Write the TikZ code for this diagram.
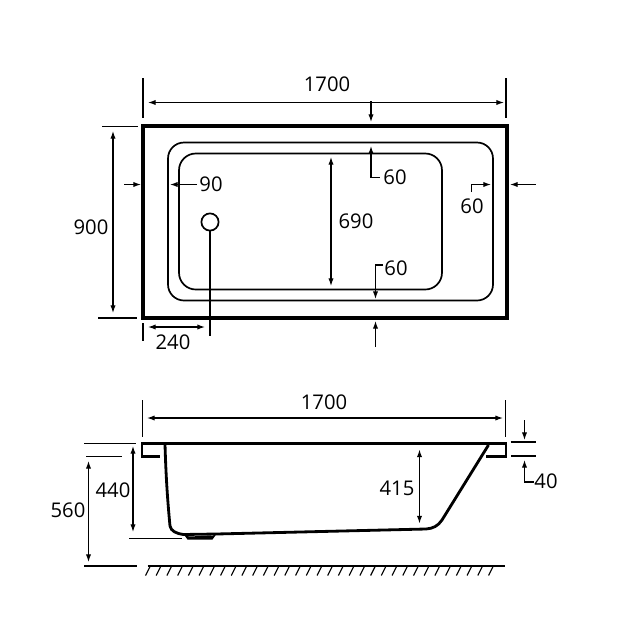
\documentclass[tikz,border=0pt]{standalone}
\usepackage{fontspec}
\setmainfont{Open Sans}
\usetikzlibrary{arrows.meta}
\tikzset{>={Latex[width=3.7pt,length=5.4pt]}}
\tikzset{
  dimline/.style={line width=0.8pt},
  bathedge/.style={line width=2.3pt},
  bathrim/.style={line width=1.2pt},
  dimtext/.style={inner sep=0pt, font=\fontsize{14.4}{16}\selectfont},
}

\begin{document}
\begin{tikzpicture}[x=0.025cm, y=-0.025cm]
    \useasboundingbox (0,0) rectangle (640,640);

    % plan view
    \draw[bathedge] (143,126) rectangle (507,318);
    \draw[bathrim, rounded corners=0.4cm] (168,142.5) rectangle (493,300.5);
    \draw[bathrim, rounded corners=0.42cm] (179,153.5) rectangle (442,289.5);
    \node[draw, bathrim, circle, minimum size=0.43cm, inner sep=0pt] (drain) at (210,222) {};

    \coordinate (plan-l-top) at (143,78);
    \coordinate (plan-l-bot) at (143,118);
    \coordinate (plan-r-top) at (506,78);
    \coordinate (plan-r-bot) at (506,118);
    \draw[dimline] (plan-l-top) -- (plan-l-bot);
    \draw[dimline] (plan-r-top) -- (plan-r-bot);
    \node[dimtext] (len-plan) at (327,84) {1700};
    \draw[dimline, <->] (148,102.5) -- (504,102.5);
    \draw[dimline, ->] (371,101) -- (371,122);

    \draw[dimline] (102,126.5) -- (138,126.5);
    \draw[dimline] (98,318) -- (137,318);
    \node[dimtext] (width-plan) at (91,227) {900};
    \draw[dimline, <->] (113,131) -- (113,313);

    \draw[dimline, ->] (124,184.5) -- (141,184.5);
    \node[dimtext] (rim-left) at (211,184.5) {90};
    \draw[dimline, ->] (rim-left.west) ++(-2,0) -- (170,184.5);

    \node[dimtext] (rim-top) at (395,177) {60};
    \draw[dimline, ->] (379.5,177.5) -- (371,177.5) -- (371,146);
    \node[dimtext] (depth-plan) at (356,221) {690};
    \draw[dimline, <->] (331,157) -- (331,286);
    \node[dimtext] (rim-bot) at (396,268) {60};
    \draw[dimline, ->] (383,265) -- (375.5,265) -- (375.5,299);
    \draw[dimline, ->] (375.5,347) -- (375.5,321);

    \node[dimtext] (rim-right) at (472,206) {60};
    \draw[dimline, ->] (471.5,192) -- (471.5,184.5) -- (491,184.5);
    \draw[dimline, ->] (535.5,184.5) -- (510,184.5);

    \coordinate (drain-end) at (210,336);
    \draw[dimline] (drain) -- (drain-end);
    \draw[dimline] (143,323) -- (143,341);
    \draw[dimline, <->] (148,327) -- (205,327);
    \node[dimtext] (drain-pos) at (173,342) {240};

    % side view
    \draw[dimline] (142.5,400) -- (142.5,437);
    \draw[dimline] (505.5,400) -- (505.5,437);
    \node[dimtext] (len-side) at (324,402) {1700};
    \draw[dimline, <->] (147,418) -- (503,418);

    \draw[line width=2.1pt] (159.5,456.5) -- (142,456.5) -- (142,443.5) -- (506,443.5) -- (506,456.5) -- (485.5,456.5);
    \draw[line width=2pt] (165,444) .. controls (166,480) and (168,505) .. (170,526)
        .. controls (171,531) and (176,533.5) .. (183.5,534.5)
        -- (216.5,534) -- (426,529)
        .. controls (433,528.5) and (438,526) .. (442,520)
        -- (488.5,445);
    \fill (183.5,534) -- (187.5,539.5) -- (212.5,539.5) -- (216.5,534) -- (213,535.5) -- (189,536.5) -- cycle;

    \draw[dimline] (84,443.7) -- (136,443.7);
    \draw[dimline] (86,456.7) -- (122,456.7);
    \draw[dimline] (129,538.7) -- (182,538.7);
    \draw[dimline] (84,566) -- (137,566);
    \node[dimtext] (height-rim) at (113,490) {440};
    \draw[dimline, <->] (133,446) -- (133,532);
    \node[dimtext] (height-floor) at (68,510) {560};
    \draw[dimline, <->] (88.5,461) -- (88.5,562);
    \node[dimtext] (depth-side) at (397,488) {415};
    \draw[dimline, <->] (419.5,449.5) -- (419.5,523.5);

    \draw[dimline] (510.5,442) -- (536,442);
    \draw[dimline] (511,456) -- (536,456);
    \draw[dimline, ->] (524.5,420) -- (524.5,440);
    \node[dimtext] (rim-thick) at (546,481) {40};
    \draw[dimline, ->] (533.5,482) -- (524.5,482) -- (524.5,460);

    % floor
    \draw[dimline] (147.5,566) -- (504.5,566);
    \foreach \x in {0,...,32}
        \draw[dimline] ({150+10.72*\x},566.5) -- ({145.5+10.72*\x},575.5);
\end{tikzpicture}
\end{document}
